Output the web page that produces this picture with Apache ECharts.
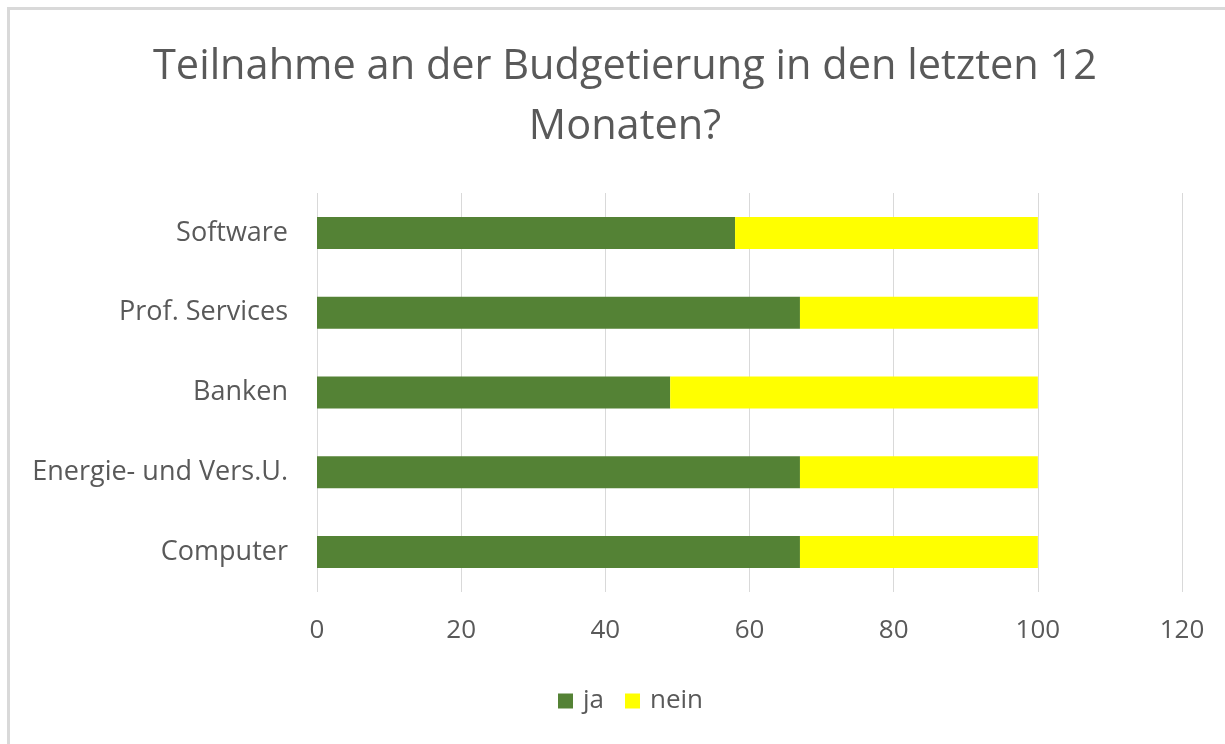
<!DOCTYPE html>
<html>
<head>
<meta charset="utf-8">
<script src="https://cdn.jsdelivr.net/npm/echarts@6/dist/echarts.min.js"></script>
<style>
  html, body { margin: 0; padding: 0; background: #fff; }
  #frame { position: absolute; left: 7px; top: 7px; width: 1240px; height: 760px; border: 3px solid #d9d9d9; box-sizing: border-box; }
  #chart { position: absolute; left: 0; top: 0; width: 1225px; height: 744px; }
</style>
</head>
<body>
<div id="frame"></div>
<div id="chart"></div>
<script>
// Branchen (von unten nach oben)
const categories = ['Computer', 'Energie- und Vers.U.', 'Banken', 'Prof. Services', 'Software']
const jaValues = [67, 67, 49, 67, 58]
const neinValues = [33, 33, 51, 33, 42]
const xTicks = [0, 20, 40, 60, 80, 100, 120]

const textColor = '#595959'
const font = '"Open Sans", "Noto Sans", sans-serif'

const chart = echarts.init(document.getElementById('chart'))
chart.setOption({
  animation: false,
  color: ['#548235', '#ffff00'],
  title: {
    text: 'Teilnahme an der Budgetierung in den letzten 12\nMonaten?',
    left: 620,
    textAlign: 'center',
    top: 32,
    textStyle: {
      color: textColor,
      fontFamily: font,
      fontSize: 41.5,
      fontWeight: 'normal',
      lineHeight: 60
    }
  },
  legend: {
    bottom: 25,
    left: 553,
    icon: 'rect',
    itemWidth: 15,
    itemHeight: 15,
    itemGap: 21,
    textStyle: { color: textColor, fontFamily: font, fontSize: 26, padding: [0, 0, 0, 5] },
    data: ['ja', 'nein']
  },
  grid: {
    left: 317,
    right: 43,
    top: 193,
    bottom: 152
  },
  xAxis: {
    type: 'value',
    min: xTicks[0],
    max: xTicks[xTicks.length - 1],
    interval: 20,
    axisLine: { show: false },
    axisTick: { show: false },
    axisLabel: { color: textColor, fontFamily: font, fontSize: 26, margin: 26 },
    splitLine: { lineStyle: { color: '#d9d9d9', width: 1 } }
  },
  yAxis: {
    type: 'category',
    data: categories,
    axisLine: { show: false },
    axisTick: { show: false },
    axisLabel: { color: textColor, fontFamily: font, fontSize: 27, margin: 29 }
  },
  series: [
    {
      name: 'ja',
      type: 'bar',
      stack: 'total',
      barWidth: 32,
      data: jaValues
    },
    {
      name: 'nein',
      type: 'bar',
      stack: 'total',
      barWidth: 32,
      data: neinValues
    }
  ]
})
</script>
</body>
</html>
